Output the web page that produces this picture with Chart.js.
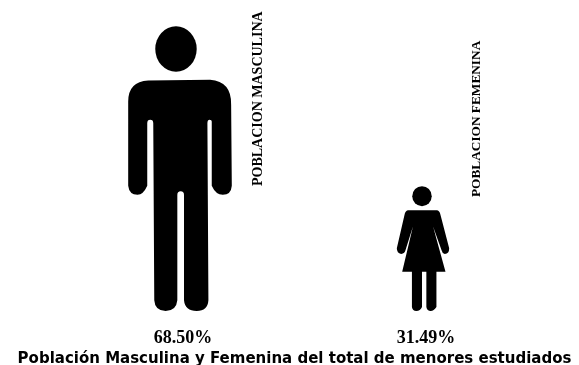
<!DOCTYPE html>
<html>
<head>
<meta charset="utf-8">
<style>
html, body { margin: 0; padding: 0; background: #fff; }
#wrap { width: 579px; height: 365px; }
</style>
<script src="https://cdn.jsdelivr.net/npm/chart.js@4"></script>
</head>
<body>
<div id="wrap"><canvas id="chart" width="579" height="365"></canvas></div>
<script>
const categories = ["POBLACION MASCULINA", "POBLACION FEMENINA"];
const shares = [68.50, 31.49];
const tickLabels = ["68.50%", "31.49%"];
const chartTitle = "Población Masculina y Femenina del total de menores estudiados";

// silhouettes, in their own box units, stretched onto the bar by the plugin below
const figures = [
    {
        w: 310, h: 852,
        head: [143, 68, 62, 68],
        body: new Path2D("M60 162 L245 160 Q310 165 308 235 L310 477 Q308 504 283 504 Q262 504 250 477 L250 285 Q250 280 244 280 Q237 280 237 290 L240 820 Q238 852 205 852 Q170 852 167 820 L167 505 Q167 494 157 494 Q147 494 147 505 L147 820 Q144 852 112 852 Q80 852 78 820 L75 290 Q75 280 66 280 Q57 280 57 290 L57 477 Q45 504 28 504 Q3 504 0 477 L0 225 Q0 165 60 162 Z")
    },
    {
        w: 156, h: 390, top: 18,
        head: [75, 30, 29, 30],
        body: new Path2D("M33 72 L120 72 Q128 74 130 85 L156 185 Q156 202 143 202 Q135 200 133 190 L108 120 L145 255 L118 255 L118 360 Q110 372 101 372 Q90 372 88 360 L88 255 L75 255 L75 360 Q70 372 58 372 Q47 372 45 360 L45 255 L16 255 L48 120 L26 190 Q24 200 13 202 Q0 200 0 185 L23 85 Q25 74 33 72 Z")
    }
];

const labelOffsets = [[78, 125, 14], [54, 114, 13.3]];

const figurePlugin = {
    id: "figurePlugin",
    afterDatasetsDraw(chart) {
        const ctx = chart.ctx;
        chart.getDatasetMeta(0).data.forEach((bar, i) => {
            const fig = figures[i];
            const s = (bar.base - bar.y) / fig.h;
            ctx.save();
            ctx.translate(bar.x - fig.w * s / 2, bar.y + (fig.top || 0) * s);
            ctx.scale(s, s);
            ctx.fillStyle = "#000";
            ctx.fill(fig.body);
            ctx.beginPath();
            ctx.ellipse(fig.head[0], fig.head[1], fig.head[2], fig.head[3], 0, 0, Math.PI * 2);
            ctx.fill();
            ctx.restore();

            // vertical caption beside each figure
            ctx.save();
            ctx.translate(bar.x + labelOffsets[i][0], bar.base - labelOffsets[i][1]);
            ctx.rotate(-Math.PI / 2);
            ctx.font = "bold " + labelOffsets[i][2] + "px 'Liberation Serif'";
            ctx.fillStyle = "#000";
            ctx.textBaseline = "middle";
            ctx.fillText(categories[i], 0, 0);
            ctx.restore();
        });
    }
};

// blank side axes hold the plot in place; layout padding would squeeze the title
const blankAxis = {
    grid: { display: false },
    border: { display: false },
    ticks: { display: false },
    min: 0,
    max: 70
};

new Chart(document.getElementById("chart"), {
    type: "bar",
    data: {
        labels: tickLabels,
        datasets: [{
            label: "Población",
            data: shares,
            backgroundColor: "rgba(0,0,0,0)",
            borderWidth: 0
        }]
    },
    options: {
        responsive: false,
        animation: false,
        layout: { padding: { left: 10, right: 0, top: 20, bottom: 0 } },
        plugins: {
            legend: { display: false },
            tooltip: { enabled: false },
            title: {
                display: true,
                text: chartTitle,
                position: "bottom",
                color: "#000",
                font: { family: "'DejaVu Sans'", size: 15, weight: "bold" },
                padding: { top: 0, bottom: -3 }
            }
        },
        scales: {
            x: {
                grid: { display: false },
                border: { display: false },
                afterFit(scale) { scale.height = 39; },
                ticks: {
                    color: "#000",
                    padding: 9,
                    labelOffset: 3,
                    font: { family: "'Liberation Serif'", size: 18, weight: "bold" }
                }
            },
            y: { ...blankAxis, afterFit(scale) { scale.width = 48.5; } },
            yRight: { ...blankAxis, axis: "y", position: "right", afterFit(scale) { scale.width = 34.5; } }
        }
    },
    plugins: [figurePlugin]
});
</script>
</body>
</html>
